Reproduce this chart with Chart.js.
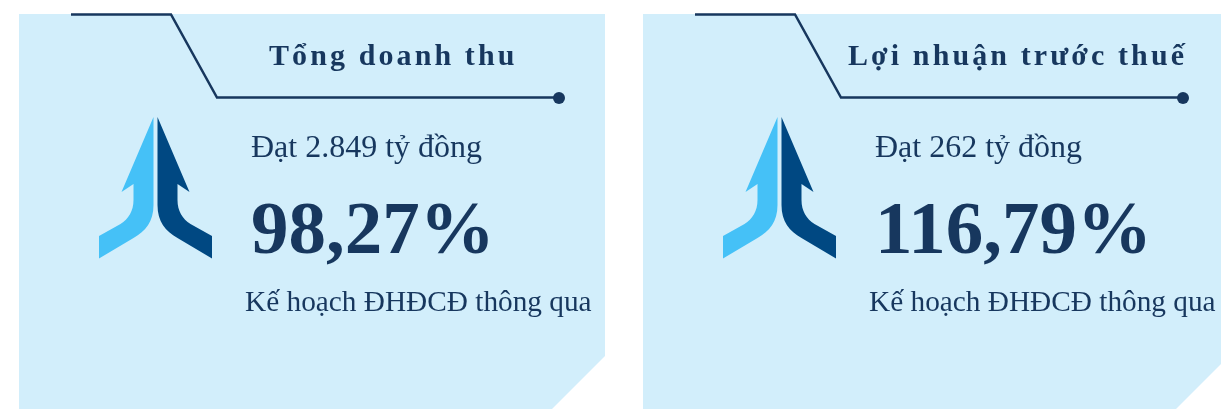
<!DOCTYPE html>
<html lang="vi">
<head>
<meta charset="utf-8">
<title>Kết quả kinh doanh</title>
<script src="https://cdn.jsdelivr.net/npm/chart.js@4"></script>
<style>
  html, body { margin: 0; padding: 0; background: #fff; overflow: hidden; }
  canvas { display: block; }
</style>
</head>
<body>
<canvas id="kpiChart" width="1221" height="409"></canvas>
<script>
// Chi tieu tung the
const categories = ["Tổng doanh thu", "Lợi nhuận trước thuế"];
const amounts = [2849, 262];
const percents = [98.27, 116.79];
const planLabel = "Kế hoạch ĐHĐCĐ thông qua";

const NAVY = "#17375e";
const PANEL = "#d2eefb";
const ARROW_LIGHT = "#45c1f7";
const ARROW_DARK = "#004882";
const FONT = '"Liberation Serif", "Times New Roman", serif';

function formatAmount(v) {
  return v.toLocaleString("vi-VN");
}

function formatPercent(v) {
  return v.toLocaleString("vi-VN", { minimumFractionDigits: 2 }) + "%";
}

// One half of the double arrow, dir = -1 goes left, dir = 1 goes right
function drawArrowHalf(ctx, cx, dir, color) {
  const x = d => cx + dir * d;
  ctx.beginPath();
  ctx.moveTo(x(2), 117);
  ctx.lineTo(x(2), 205);
  ctx.bezierCurveTo(x(2), 222, x(10), 231, x(22), 238);
  ctx.lineTo(x(56.5), 258.5);
  ctx.lineTo(x(56.5), 236);
  ctx.lineTo(x(35), 224);
  ctx.bezierCurveTo(x(27), 219, x(22), 211, x(22), 200);
  ctx.lineTo(x(22), 184);
  ctx.lineTo(x(34), 192);
  ctx.closePath();
  ctx.fillStyle = color;
  ctx.fill();
}

function drawCard(ctx, ox, i, data) {
  // panel with the cut corner
  ctx.beginPath();
  ctx.moveTo(ox + 19, 14);
  ctx.lineTo(ox + 605, 14);
  ctx.lineTo(ox + 605, 356);
  ctx.lineTo(ox + 552, 409);
  ctx.lineTo(ox + 19, 409);
  ctx.closePath();
  ctx.fillStyle = PANEL;
  ctx.fill();

  // leader line under the title
  ctx.beginPath();
  ctx.moveTo(ox + 71, 14.5);
  ctx.lineTo(ox + 171, 14.5);
  ctx.lineTo(ox + 217, 97.5);
  ctx.lineTo(ox + 559, 97.5);
  ctx.strokeStyle = NAVY;
  ctx.lineWidth = 2.5;
  ctx.stroke();
  ctx.beginPath();
  ctx.arc(ox + 559, 98, 6, 0, Math.PI * 2);
  ctx.fillStyle = NAVY;
  ctx.fill();

  drawArrowHalf(ctx, ox + 155.5, -1, ARROW_LIGHT);
  drawArrowHalf(ctx, ox + 155.5, 1, ARROW_DARK);

  // texts
  ctx.fillStyle = NAVY;
  ctx.textAlign = "left";
  ctx.textBaseline = "alphabetic";

  ctx.font = "bold 30px " + FONT;
  ctx.letterSpacing = "3.1px";
  const titleX = i === 0 ? 269 : 224;
  ctx.fillText(data.labels[i], ox + titleX, 65);
  ctx.letterSpacing = "0px";

  ctx.font = "32px " + FONT;
  ctx.fillText("Đạt " + formatAmount(amounts[i]) + " tỷ đồng", ox + 251, 157);

  ctx.font = "bold 75px " + FONT;
  ctx.fillText(formatPercent(data.datasets[0].data[i]), ox + 251, 253);

  ctx.font = "29.3px " + FONT;
  ctx.fillText(planLabel, ox + 245, 311);
}

// The cards are painted from the chart data on top of the empty plot
const cardsPlugin = {
  id: "cards",
  afterDraw(chart) {
    const ctx = chart.ctx;
    ctx.save();
    drawCard(ctx, 0, 0, chart.data);
    drawCard(ctx, 624, 1, chart.data);
    ctx.restore();
  }
};

new Chart(document.getElementById("kpiChart"), {
  type: "bar",
  data: {
    labels: categories,
    datasets: [{
      label: "% kế hoạch",
      data: percents,
      backgroundColor: "transparent"
    }]
  },
  options: {
    responsive: false,
    animation: false,
    events: [],
    layout: { padding: 0 },
    plugins: { legend: { display: false }, tooltip: { enabled: false } },
    scales: { x: { display: false }, y: { display: false } }
  },
  plugins: [cardsPlugin]
});
</script>
</body>
</html>
